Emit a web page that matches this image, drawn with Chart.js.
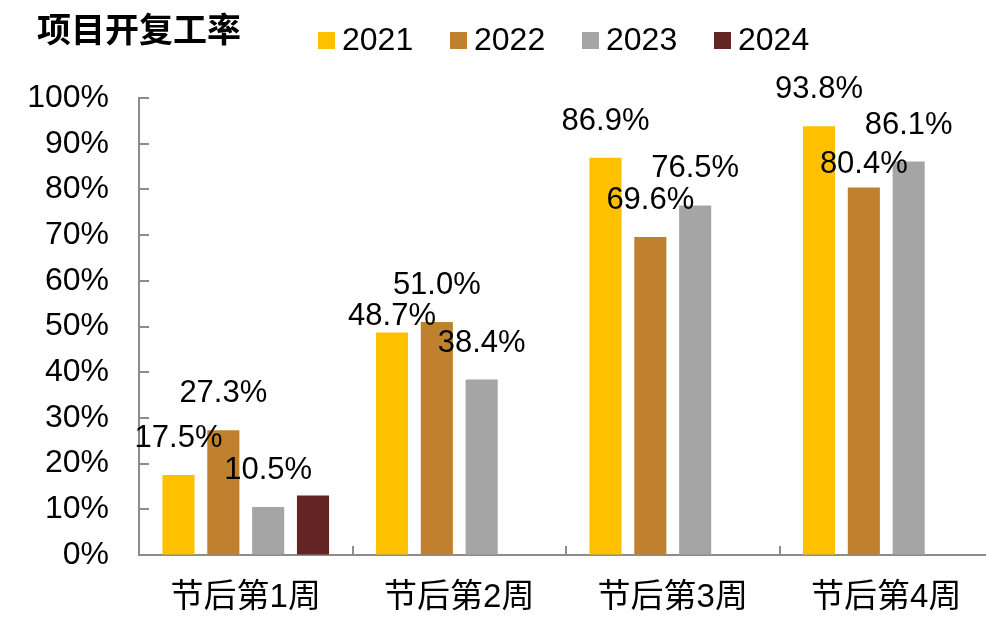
<!DOCTYPE html>
<html><head><meta charset="utf-8">
<script src="https://cdn.jsdelivr.net/npm/chart.js@4.4.1/dist/chart.umd.min.js"></script>
<style>
html,body{margin:0;padding:0;overflow:hidden;background:#fff;width:986px;height:624px}
#wrap{position:absolute;left:0;top:0;width:1000px;height:624px}
</style></head>
<body><div id="wrap"><canvas id="c" width="1000" height="624"></canvas></div>
<script>
const chartTitle = '项目开复工率';
const categories = ['节后第1周', '节后第2周', '节后第3周', '节后第4周'];
const seriesNames = ['2021', '2022', '2023', '2024'];
const values2021 = [17.5, 48.7, 86.9, 93.8];
const values2022 = [27.3, 51.0, 69.6, 80.4];
const values2023 = [10.5, 38.4, 76.5, 86.1];
const values2024 = [13.0, null, null, null];
const yTickValues = [0, 10, 20, 30, 40, 50, 60, 70, 80, 90, 100];

const colors = ['#FFC000', '#C0812F', '#A5A5A5', '#632523'];
const showLabels = [true, true, true, false];
const LATIN = '"Liberation Sans", Arial, "Noto Sans CJK SC", sans-serif';
const AXIS = '#8C8C8C';

const seriesValues = [values2021, values2022, values2023, values2024];

const datasets = seriesNames.map((n, i) => ({
  label: n,
  data: seriesValues[i],
  backgroundColor: colors[i],
  borderWidth: 0,
  categoryPercentage: 0.84,
  barPercentage: 0.716,
  showLabels: showLabels[i]
}));

// label lift above bar top (px), keyed "category,dataset"; default and hand-moved labels
const labelLift = { def: 36.5, '1,0': 16, '3,1': 23.5 };

const headerPlugin = {
  id: 'header',
  afterDraw(chart) {
    const ctx = chart.ctx;
    ctx.save();
    ctx.fillStyle = '#000';
    ctx.textBaseline = 'middle';
    ctx.textAlign = 'left';
    ctx.font = 'bold 34px "Noto Sans CJK SC", sans-serif';
    ctx.fillText(chartTitle, 37, 29);
    ctx.font = '32px ' + LATIN;
    chart.data.datasets.forEach((ds, i) => {
      const bx = 318 + i * 132;
      ctx.fillStyle = ds.backgroundColor;
      ctx.fillRect(bx, 32, 17, 17);
      ctx.fillStyle = '#000';
      ctx.fillText(ds.label, bx + 24, 41);
    });
    ctx.restore();
  }
};

const innerTicksPlugin = {
  id: 'innerTicks',
  afterDraw(chart) {
    const ctx = chart.ctx;
    const ys = chart.scales.y, xs = chart.scales.x;
    const area = chart.chartArea;
    ctx.save();
    ctx.strokeStyle = AXIS;
    ctx.lineWidth = 2;
    ctx.beginPath();
    yTickValues.forEach(v => {
      const y = Math.round(ys.getPixelForValue(v));
      ctx.moveTo(area.left, y);
      ctx.lineTo(area.left + 10, y);
    });
    const n = categories.length;
    const w = (xs.getPixelForTick(1) - xs.getPixelForTick(0));
    for (let i = 1; i <= n; i++) {
      const x = Math.round(xs.getPixelForTick(0) - w / 2 + i * w);
      ctx.moveTo(x, area.bottom);
      ctx.lineTo(x, area.bottom - 9);
    }
    ctx.stroke();
    ctx.restore();
  }
};

const valueLabelPlugin = {
  id: 'valueLabels',
  afterDatasetsDraw(chart) {
    const ctx = chart.ctx;
    ctx.save();
    ctx.fillStyle = '#000';
    ctx.font = '31px ' + LATIN;
    ctx.textAlign = 'center';
    ctx.textBaseline = 'middle';
    chart.data.datasets.forEach((ds, i) => {
      if (!ds.showLabels) return;
      const meta = chart.getDatasetMeta(i);
      meta.data.forEach((el, j) => {
        const v = ds.data[j];
        if (v == null) return;
        const key = j + ',' + i;
        const lift = labelLift[key] !== undefined ? labelLift[key] : labelLift.def;
        ctx.fillText(v.toFixed(1) + '%', el.x, el.y - lift);
      });
    });
    ctx.restore();
  }
};

new Chart(document.getElementById('c'), {
  type: 'bar',
  data: { labels: categories, datasets },
  options: {
    responsive: false,
    animation: false,
    devicePixelRatio: 1,
    layout: { padding: { top: 98, right: 7, bottom: 0, left: 0 } },
    plugins: { legend: { display: false }, title: { display: false }, tooltip: { enabled: false } },
    scales: {
      x: {
        grid: { display: true, drawOnChartArea: false, drawTicks: false },
        border: { color: AXIS, width: 2 },
        ticks: { color: '#000', font: { family: LATIN, size: 33 }, padding: 23 },
        afterFit(s) { s.height = 69; }
      },
      y: {
        min: 0, max: 100,
        afterBuildTicks(s) { s.ticks = yTickValues.map(v => ({ value: v })); },
        grid: { display: true, drawOnChartArea: false, drawTicks: false },
        border: { color: AXIS, width: 2 },
        ticks: { color: '#000', font: { family: LATIN, size: 32 }, padding: 30, callback: v => v + '%' },
        afterFit(s) { s.width = 139; }
      }
    }
  },
  plugins: [headerPlugin, innerTicksPlugin, valueLabelPlugin]
});
</script>
</body></html>
